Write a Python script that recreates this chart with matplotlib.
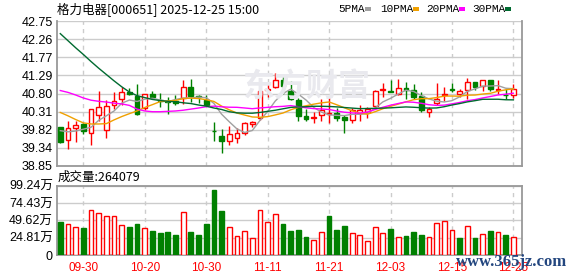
import numpy as np
import pandas as pd
import matplotlib
matplotlib.use("Agg")
import matplotlib.pyplot as plt
from matplotlib.patches import Rectangle

plt.rcParams['font.family'] = ['Liberation Sans', 'Noto Sans CJK SC', 'DejaVu Sans']

# ---------------- data ----------------
title = "格力电器[000651] 2025-12-25 15:00"
open_ = [39.89, 39.54, 39.88, 39.98, 39.75, 40.21, 39.83, 40.48, 40.66, 40.84,
         40.73, 40.42, 40.79, 40.62, 40.60, 40.60, 40.67, 40.97, 40.72, 40.63,
         39.80, 39.66, 39.53, 39.59, 39.74, 39.98, 40.13, 40.89, 40.97, 41.16,
         40.88, 40.63, 40.19, 40.14, 40.21, 40.24, 40.28, 40.18, 40.09, 40.28,
         40.31, 40.46, 40.89, 40.87, 40.80, 40.94, 40.89, 40.73, 40.30, 40.54,
         40.76, 40.91, 40.80, 40.89, 41.10, 41.00, 41.16, 40.89, 40.77, 40.75]
high = [39.90, 40.06, 40.06, 40.01, 40.37, 40.87, 40.62, 40.83, 40.98, 40.94,
        41.06, 40.78, 40.86, 40.82, 40.70, 40.76, 41.16, 41.18, 40.76, 40.76,
        40.04, 39.84, 39.92, 39.88, 40.04, 40.06, 40.90, 41.12, 41.34, 41.33,
        41.13, 40.68, 40.37, 40.31, 40.64, 40.73, 40.40, 40.22, 40.42, 40.49,
        40.45, 40.89, 41.07, 41.16, 41.18, 41.12, 41.06, 40.85, 40.45, 41.07,
        40.97, 41.07, 40.92, 41.21, 41.10, 41.15, 41.16, 41.16, 40.91, 41.06]
low = [39.47, 39.31, 39.49, 39.71, 39.42, 40.07, 39.61, 40.37, 40.48, 40.76,
       40.22, 40.36, 40.64, 40.45, 40.24, 40.49, 40.51, 40.58, 40.55, 40.46,
       39.52, 39.21, 39.41, 39.48, 39.68, 39.89, 40.10, 40.71, 40.95, 40.80,
       40.63, 40.07, 40.07, 40.01, 40.07, 40.00, 40.07, 39.74, 40.02, 40.07,
       40.13, 40.45, 40.70, 40.83, 40.76, 40.65, 40.65, 40.31, 40.18, 40.49,
       40.61, 40.85, 40.71, 40.64, 40.89, 40.88, 40.88, 40.80, 40.64, 40.69]
close = [39.50, 39.86, 39.94, 39.79, 40.37, 40.43, 40.47, 40.59, 40.83, 40.80,
         40.24, 40.78, 40.71, 40.60, 40.56, 40.55, 40.97, 40.73, 40.70, 40.49,
         39.78, 39.52, 39.71, 39.74, 40.01, 40.04, 40.88, 40.91, 41.16, 41.00,
         40.64, 40.20, 40.12, 40.17, 40.36, 40.28, 40.13, 40.09, 40.35, 40.36,
         40.38, 40.87, 40.91, 40.83, 40.94, 40.89, 40.71, 40.36, 40.37, 40.64,
         40.78, 40.89, 40.87, 41.10, 40.98, 41.15, 40.91, 40.92, 40.75, 40.91]
# volume in 万手
volume = [47.9, 45.0, 40.2, 39.2, 64.9, 60.5, 56.2, 56.2, 43.1, 40.7,
          45.0, 38.7, 34.9, 31.0, 33.4, 29.0, 62.0, 33.4, 29.0, 45.0,
          92.9, 62.4, 40.2, 27.1, 34.4, 24.2, 64.9, 47.4, 58.1, 45.0,
          34.9, 36.3, 26.1, 21.3, 32.9, 55.2, 36.3, 42.1, 32.0, 28.6,
          19.8, 40.2, 32.0, 37.8, 25.7, 27.6, 33.4, 28.6, 25.7, 46.0,
          48.9, 35.8, 24.7, 41.6, 24.7, 30.0, 34.9, 32.9, 29.0, 26.41]
# moving-average values before a full window exists
ma5_head = [39.80, 39.77, 39.79, 39.84]
ma10_head = [40.29, 40.20, 40.10, 40.01, 39.98, 39.98, 39.99, 40.09, 40.18]
ma20_head = [40.88, 40.83, 40.76, 40.68, 40.62, 40.59, 40.57, 40.54, 40.52, 40.48,
             40.38, 40.33, 40.31, 40.31, 40.32, 40.33, 40.35, 40.38, 40.41]
ma30_head = [42.41, 42.22, 42.03, 41.85, 41.66, 41.48, 41.31, 41.14, 40.98, 40.84,
             40.74, 40.69, 40.64, 40.61, 40.59, 40.58, 40.55, 40.53, 40.49, 40.46,
             40.41, 40.37, 40.31, 40.28, 40.27, 40.27, 40.29, 40.32, 40.35]
date_labels = ["09-30", "10-20", "10-30", "11-11", "11-21", "12-03", "12-15", "12-25"]
date_index = [3, 11, 19, 27, 35, 43, 51, 59]
price_ticks = [42.75, 42.26, 41.77, 41.29, 40.80, 40.31, 39.82, 39.34, 38.85]
vol_ticks = [0, 24.81, 49.62, 74.43, 99.24]
vol_tick_labels = ["0", "24.81万", "49.62万", "74.43万", "99.24万"]
last_volume = "264079"
ma_names = ["5PMA", "10PMA", "20PMA", "30PMA"]

# ---------------- derived ----------------
o = np.array(open_); h = np.array(high); l = np.array(low); c = np.array(close)
v = np.array(volume)
n = len(c)
x = np.arange(n)
cs = pd.Series(c)
ma5 = cs.rolling(5).mean().to_numpy(); ma5[:4] = ma5_head
ma10 = cs.rolling(10).mean().to_numpy(); ma10[:9] = ma10_head
ma20 = cs.rolling(20).mean().to_numpy(); ma20[:19] = ma20_head
ma30 = cs.rolling(30).mean().to_numpy(); ma30[:29] = ma30_head

RED = "#ff0000"
GREEN = "#008000"
MA_COLORS = ["#a0a0a0", "#f0a000", "#ff00ff", "#006a30"]
FRAME = "#999999"
GRID = "#cccccc"

W, H = 578, 276
fig = plt.figure(figsize=(W / 100, H / 100), dpi=100)
fig.patch.set_facecolor("white")

def fx(px):
    return px / W

def fy(py):
    return 1 - py / H

ax = fig.add_axes([fx(57), fy(166), fx(522) - fx(57), fy(21) - fy(166)])
axv = fig.add_axes([fx(57), fy(255), fx(522) - fx(57), fy(185.7) - fy(255)])

xlim = (-0.43, 60.12)

# ----- price panel -----
ax.set_xlim(*xlim)
ax.set_ylim(38.85, 42.75)
for t in price_ticks:
    ax.axhline(t, color=GRID, lw=1.0, zorder=0)
for di in date_index:
    ax.axvline(di, color=GRID, lw=1.0, ls=(0, (3, 3)), zorder=0)

fig.text(fx(306), fy(88), "东方财富", fontsize=23, fontweight="bold",
         color="#e9e9ee", ha="center", va="center",
         family=["Noto Sans CJK SC"], zorder=0)

up_candle = c >= o
bw = 0.62
for i in range(n):
    col = RED if up_candle[i] else GREEN
    ax.vlines(x[i], l[i], h[i], color=col, lw=1.0, zorder=2)
    bottom = min(o[i], c[i])
    height = max(abs(c[i] - o[i]), 0.012)
    if up_candle[i]:
        ax.add_patch(Rectangle((x[i] - bw / 2, bottom), bw, height,
                               facecolor="white", edgecolor=col, lw=1.0, zorder=3))
    else:
        ax.add_patch(Rectangle((x[i] - bw / 2, bottom), bw, height,
                               facecolor=col, edgecolor=col, lw=1.0, zorder=3))

for ma, colr in zip([ma5, ma10, ma20, ma30], MA_COLORS):
    ax.plot(x, ma, color=colr, lw=1.0, zorder=4)

ax.set_yticks(price_ticks)
ax.set_yticklabels([f"{t:.2f}" for t in price_ticks], fontsize=9)
ax.set_xticks([])
ax.tick_params(axis="y", length=0, pad=3)
for s in ["left", "right", "bottom"]:
    ax.spines[s].set_color(FRAME)
    ax.spines[s].set_linewidth(1.3)
ax.spines["top"].set_visible(False)

# ----- volume panel -----
axv.set_xlim(*xlim)
axv.set_ylim(0, 99.24)
for t in vol_ticks:
    axv.axhline(t, color=GRID, lw=1.0, zorder=0)
for di in date_index:
    axv.axvline(di, color=GRID, lw=1.0, ls=(0, (3, 3)), zorder=0)
vol_up = np.r_[c[0] > o[0], c[1:] > c[:-1]]
for i in range(n):
    if vol_up[i]:
        axv.bar(x[i], v[i], width=bw, facecolor="white", edgecolor=RED, lw=1.0, zorder=3)
    else:
        axv.bar(x[i], v[i], width=bw, facecolor=GREEN, edgecolor=GREEN, lw=1.0, zorder=3)
axv.set_yticks(vol_ticks)
axv.set_yticklabels(vol_tick_labels, fontsize=9)
axv.set_xticks(date_index)
axv.set_xticklabels(date_labels, fontsize=8.5, color=RED)
axv.tick_params(axis="both", length=0)
axv.tick_params(axis="y", pad=3)
axv.tick_params(axis="x", pad=5)
for s in ["left", "right", "bottom", "top"]:
    axv.spines[s].set_color(FRAME)
    axv.spines[s].set_linewidth(1.3)

# ----- texts -----
fig.text(fx(57), fy(9), title, fontsize=9, ha="left", va="center",
         family=["Noto Sans CJK SC", "DejaVu Sans"])
fig.text(fx(58), fy(177), "成交量:" + last_volume, fontsize=9, ha="left", va="center",
         family=["Noto Sans CJK SC", "DejaVu Sans"])

leg_x = [338, 380, 426, 472]
sq_x = [365, 413, 459, 505]
for name, lx, sx, colr in zip(ma_names, leg_x, sq_x, MA_COLORS):
    fig.text(fx(lx), fy(9), name, fontsize=8, ha="left", va="center",
             family=["Liberation Mono"])
    fig.patches.append(Rectangle((fx(sx), fy(10.5)), fx(6), 3.5 / H,
                                 transform=fig.transFigure, facecolor=colr,
                                 edgecolor="none"))

fig.text(fx(512), fy(262), "www.365jz.com", fontsize=12, fontweight="bold",
         color="#23467f", ha="center", va="center",
         family=["Liberation Serif"], zorder=10)

fig.savefig("out.png", dpi=100, facecolor="white")
